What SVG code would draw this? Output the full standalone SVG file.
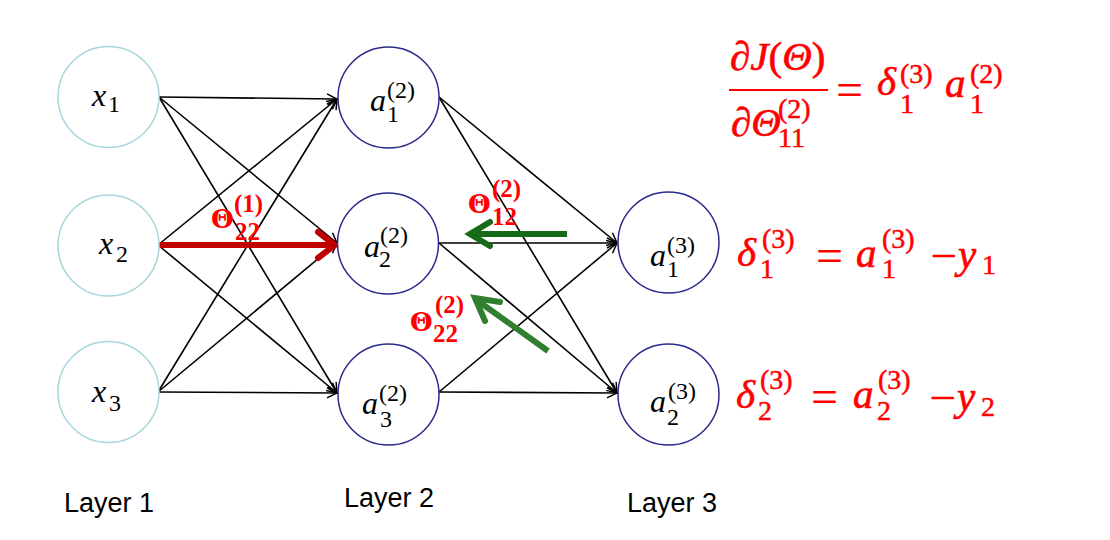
<svg xmlns="http://www.w3.org/2000/svg" width="1110" height="540" viewBox="0 0 1110 540">
<defs>
<style>
.n1{fill:#fff;stroke:#a8d6dc;stroke-width:1.5}
.n2{fill:#fff;stroke:#2a2a8c;stroke-width:1.5}
.e{stroke:#000;stroke-width:1.6;fill:none;marker-end:url(#ah)}
.m{font-family:"Liberation Serif",serif;font-style:italic;font-size:32px;fill:#000}
.s{font-family:"Liberation Serif",serif;font-size:24px;fill:#000}
.em{font-family:"Liberation Serif",serif;font-style:italic;font-size:41px;fill:#f00;stroke:#f00;stroke-width:0.6}
.eu{font-family:"Liberation Serif",serif;font-size:48px;fill:#f00}
.es{font-family:"Liberation Serif",serif;font-size:28px;fill:#f00;stroke:#f00;stroke-width:0.5}
.tl{font-family:"Liberation Serif",serif;font-weight:bold;font-size:25px;fill:#f00}
.th{font-family:"DejaVu Serif",serif;font-size:26px}
.lab{font-family:"Liberation Sans",sans-serif;font-size:27px;fill:#000}
</style>
<marker id="ah" viewBox="0 0 12 12" refX="11" refY="6" markerWidth="12" markerHeight="12" markerUnits="userSpaceOnUse" orient="auto">
<path d="M1,1 L11,6 L1,11" fill="none" stroke="#000" stroke-width="1.5"/>
</marker>
</defs>
<rect width="1110" height="540" fill="#fff"/>

<g id="connectors">
<line class="e" x1="159" y1="97" x2="337" y2="99"/>
<line class="e" x1="159" y1="97" x2="337" y2="243"/>
<line class="e" x1="159" y1="97" x2="337" y2="393"/>
<line class="e" x1="158" y1="245" x2="337" y2="99"/>
<line class="e" x1="158" y1="245" x2="337" y2="393"/>
<line class="e" x1="158" y1="392" x2="337" y2="99"/>
<line class="e" x1="158" y1="392" x2="337" y2="243"/>
<line class="e" x1="158" y1="392" x2="337" y2="393"/>
<line class="e" x1="439" y1="97" x2="617" y2="243"/>
<line class="e" x1="439" y1="97" x2="617" y2="393"/>
<line class="e" x1="439" y1="243" x2="617" y2="243"/>
<line class="e" x1="439" y1="243" x2="617" y2="393"/>
<line class="e" x1="439" y1="392" x2="617" y2="243"/>
<line class="e" x1="439" y1="392" x2="617" y2="393"/>
<g id="red-arrow" stroke="#c00000" stroke-width="6" fill="none">
<line x1="160" y1="245" x2="333" y2="245"/>
<polyline points="318,232 335,245 318,258" stroke-linecap="round"/>
</g>
<g id="green-arrow-1" stroke="#176a17" stroke-width="6" fill="none">
<line x1="567" y1="234" x2="472" y2="234"/>
<polyline points="490,222 470,234 490,246" stroke-linecap="round"/>
</g>
<g id="green-arrow-2" stroke="#2f7f2f" stroke-width="6" fill="none">
<line x1="548" y1="351" x2="478" y2="301"/>
<polyline points="500,302 475,298 485,321" stroke-linecap="round"/>
</g>
</g>

<g id="x1"><circle class="n1" cx="108.5" cy="97" r="50.5"/>
<text class="m" x="92" y="106">x</text><text class="s" x="108" y="112">1</text></g>
<g id="x2"><circle class="n1" cx="108.5" cy="245.5" r="50.5"/>
<text class="m" x="99" y="254">x</text><text class="s" x="116" y="262">2</text></g>
<g id="x3"><circle class="n1" cx="108.5" cy="392" r="50.5"/>
<text class="m" x="92" y="402">x</text><text class="s" x="109" y="411">3</text></g>

<g id="a1-2"><circle class="n2" cx="388.5" cy="97.5" r="50.5"/>
<text class="m" x="370" y="111">a</text><text class="s" x="387" y="98">(2)</text><text class="s" x="387" y="122">1</text></g>
<g id="a2-2"><circle class="n2" cx="388" cy="243.5" r="50.5"/>
<text class="m" x="364" y="257">a</text><text class="s" x="380" y="243">(2)</text><text class="s" x="379" y="267">2</text></g>
<g id="a3-2"><circle class="n2" cx="388.5" cy="394.5" r="50.5"/>
<text class="m" x="362" y="414">a</text><text class="s" x="379" y="401">(2)</text><text class="s" x="380" y="427">3</text></g>

<g id="a1-3"><circle class="n2" cx="668.5" cy="242.5" r="50.5"/>
<text class="m" x="650" y="266">a</text><text class="s" x="667" y="253">(3)</text><text class="s" x="667" y="277">1</text></g>
<g id="a2-3"><circle class="n2" cx="668.5" cy="394.5" r="50.5"/>
<text class="m" x="650" y="412">a</text><text class="s" x="668" y="399">(3)</text><text class="s" x="667" y="425">2</text></g>

<g id="theta-labels">
<text class="tl"><tspan class="th" x="211" y="228">Θ</tspan><tspan x="234" y="212">(1)</tspan><tspan x="235" y="240">22</tspan></text>
<text class="tl"><tspan class="th" x="468" y="213">Θ</tspan><tspan x="492" y="197">(2)</tspan><tspan x="492" y="225">12</tspan></text>
<text class="tl"><tspan class="th" x="410" y="331">Θ</tspan><tspan x="435" y="313">(2)</tspan><tspan x="433" y="342">22</tspan></text>
</g>

<g id="eq1">
<text class="em" x="730" y="70">∂J<tspan font-style="normal">(</tspan>Θ<tspan font-style="normal">)</tspan></text>
<line x1="729" y1="90" x2="828" y2="90" stroke="#f00" stroke-width="2.2"/>
<text class="em" x="731" y="136">∂Θ</text>
<text class="es"><tspan x="778" y="118">(2)</tspan><tspan x="778" y="147">11</tspan></text>
<text class="eu" x="836" y="106">=</text>
<text class="em" x="877" y="95">δ</text>
<text class="es"><tspan x="900" y="83">(3)</tspan><tspan x="900" y="113">1</tspan></text>
<text class="em" x="945" y="97">a</text>
<text class="es"><tspan x="970" y="83">(2)</tspan><tspan x="970" y="113">1</tspan></text>
</g>

<g id="eq2">
<text class="em" x="737" y="266">δ</text>
<text class="es"><tspan x="762" y="248">(3)</tspan><tspan x="760" y="278">1</tspan></text>
<text class="eu" x="816" y="272">=</text>
<text class="em" x="856" y="267">a</text>
<text class="es"><tspan x="882" y="248">(3)</tspan><tspan x="882" y="278">1</tspan></text>
<text class="eu" x="930" y="272">−</text>
<text class="em" x="958" y="268">y</text>
<text class="es" x="982" y="274">1</text>
</g>

<g id="eq3">
<text class="em" x="736" y="408">δ</text>
<text class="es"><tspan x="760" y="389">(3)</tspan><tspan x="758" y="420">2</tspan></text>
<text class="eu" x="811" y="413">=</text>
<text class="em" x="853" y="408">a</text>
<text class="es"><tspan x="878" y="389">(3)</tspan><tspan x="877" y="420">2</tspan></text>
<text class="eu" x="929" y="414">−</text>
<text class="em" x="957" y="410">y</text>
<text class="es" x="981" y="416">2</text>
</g>

<g id="layer-labels">
<text class="lab" x="64" y="512">Layer 1</text>
<text class="lab" x="344" y="507">Layer 2</text>
<text class="lab" x="627" y="512">Layer 3</text>
</g>
</svg>
